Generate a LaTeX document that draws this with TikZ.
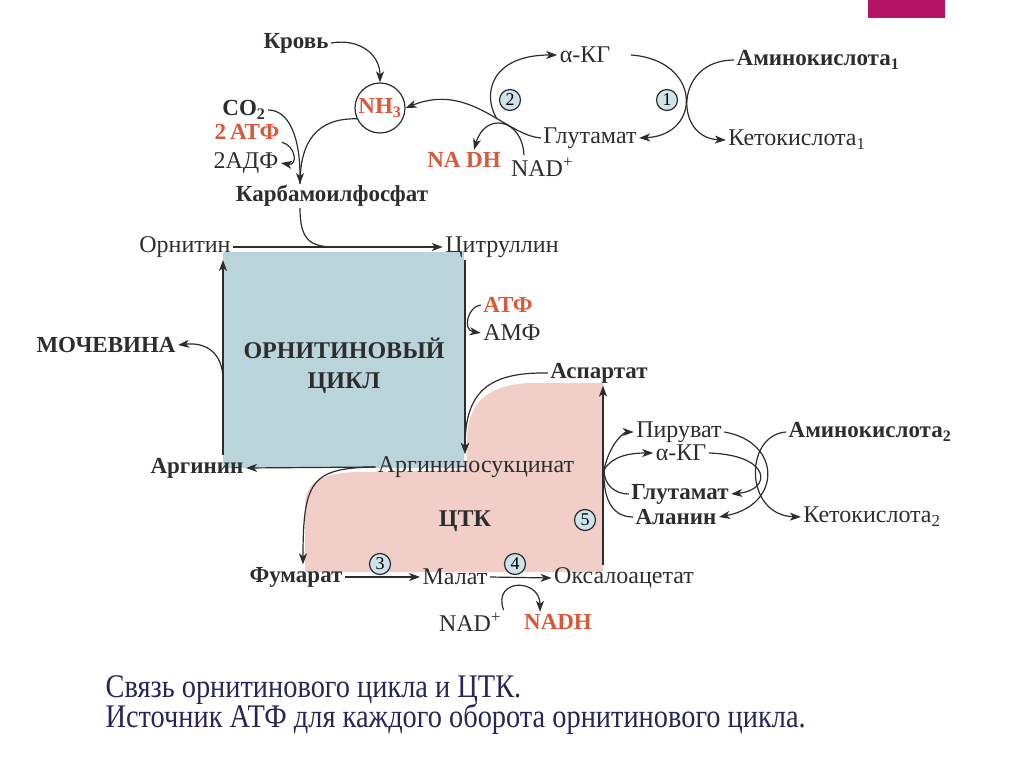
\documentclass[tikz,border=0pt]{standalone}
\usepackage{fontspec}
\setmainfont{Liberation Serif}
\newfontfamily\capfont[FakeStretch=0.86]{Liberation Serif}
\usetikzlibrary{arrows.meta}
\definecolor{ored}{RGB}{218,88,56}
\definecolor{oblue}{RGB}{186,212,220}
\definecolor{opink}{RGB}{241,206,199}
\definecolor{cblue}{RGB}{205,228,234}
\definecolor{slidemag}{RGB}{181,20,102}
\definecolor{capnavy}{RGB}{38,38,88}
\definecolor{ink}{RGB}{45,45,45}

\begin{document}
\begin{tikzpicture}[x=1pt, y=-1pt, line width=1.2pt, draw=ink,
    lbl/.style={font=\fontsize{24}{27}\selectfont, text=ink, inner sep=2pt},
    blbl/.style={font=\fontsize{23}{26}\selectfont\bfseries, text=ink, inner sep=2pt},
    rlbl/.style={blbl, text=ored},
    ttl/.style={font=\fontsize{24}{30}\selectfont\bfseries, text=ink, align=center},
    num/.style={circle, draw, fill=cblue, inner sep=0pt, minimum size=21pt, font=\fontsize{18}{18}\selectfont},
    arr/.style={-{Stealth[length=11pt,width=8pt,inset=3pt]}},
    captxt/.style={font=\capfont\fontsize{33}{36}\selectfont, text=capnavy, anchor=west, inner sep=0pt}]
    \useasboundingbox (0,0) rectangle (1024,767);

    % slide mark and cycle panels
    \fill[slidemag] (868,0) rectangle (945,18);
    \fill[oblue] (223,252) rectangle (464,468);
    \fill[opink] (467,470) -- (467,440) .. controls (467,405) and (485,385) .. (530,383) -- (603,383) -- (603,572) -- (305,572) -- (305,505) .. controls (305,482) and (322,472) .. (363,472) -- cycle;

    % top: ammonia and carbamoyl phosphate
    \node[blbl] (krov) at (296,43) {Кровь};
    \node[circle, draw, minimum size=50pt, inner sep=0pt, font=\fontsize{23}{26}\selectfont\bfseries, text=ored] (nh3) at (380,108) {NH\textsubscript{3}};
    \node[blbl] (co2) at (244,110) {CO\textsubscript{2}};
    \node[rlbl] (atf2) at (247,132) {2\,АТФ};
    \node[lbl] (adf) at (246,163) {2АДФ};
    \node[blbl] (karb) at (332,196) {Карбамоилфосфат};
    \coordinate (kin) at (300,184);
    \coordinate (kout) at (300,208);
    \coordinate (kjoin) at (335,247);

    % glutamate dehydrogenase and transamination 1
    \node[lbl] (akg1) at (585,55) {α-КГ};
    \node[lbl] (glu1) at (590,138) {Глутамат};
    \node[rlbl] (nadh1) at (464,160) {NA DH};
    \node[lbl] (nad1) at (542,167) {NAD\textsuperscript{+}};
    \node[blbl] (aa1) at (818,60) {Аминокислота\textsubscript{1}};
    \node[lbl] (ka1) at (797,140) {Кетокислота\textsubscript{1}};
    \node[num] (c2) at (510,100) {2};
    \node[num] (c1) at (667,100) {1};
    \coordinate (b2) at (497,119);

    % ornithine cycle
    \node[lbl] (orn) at (185,247) {Орнитин};
    \node[lbl] (citr) at (502,247) {Цитруллин};
    \node[rlbl] (atf) at (508,305) {АТФ};
    \node[lbl] (amf) at (512,333) {АМФ};
    \node[blbl] (urea) at (106,345) {МОЧЕВИНА};
    \node[ttl] (oc) at (344,366) {ОРНИТИНОВЫЙ\\ЦИКЛ};
    \node[blbl] (asp) at (599,373) {Аспартат};
    \node[blbl] (arg) at (197,468) {Аргинин};
    \node[lbl] (args) at (476,467) {Аргининосукцинат};
    \coordinate (lx) at (223,0);
    \coordinate (rx) at (465,0);
    \coordinate (ub) at (223,380);

    % TCA part
    \node[ttl] (ctk) at (465,521) {ЦТК};
    \node[blbl] (fum) at (296,577) {Фумарат};
    \node[lbl] (mal) at (455,577) {Малат};
    \node[lbl] (oxa) at (624,578) {Оксалоацетат};
    \node[lbl] (nad2) at (470,622) {NAD\textsuperscript{+}};
    \node[rlbl] (nadh2) at (558,622) {NADH};
    \node[num] (c3) at (380,564) {3};
    \node[num] (c4) at (515,564) {4};
    \node[num] (c5) at (585,520) {5};
    \coordinate (vx) at (603,0);
    \coordinate (br) at (604,470);

    % transamination 2
    \node[lbl] (pyr) at (679,432) {Пируват};
    \node[lbl] (akg2) at (681,453) {α-КГ};
    \node[blbl] (glu2) at (680,494) {Глутамат};
    \node[blbl] (ala) at (676,517) {Аланин};
    \node[blbl] (aa2) at (870,432) {Аминокислота\textsubscript{2}};
    \node[lbl] (ka2) at (872,517) {Кетокислота\textsubscript{2}};

    % caption
    \node[captxt] (cap1) at (105,690) {Связь орнитинового цикла и ЦТК.};
    \node[captxt] (cap2) at (105,719) {Источник АТФ для каждого оборота орнитинового цикла.};

    % connectors, top
    \draw[arr] (krov.east) .. controls (360,38) and (380,55) .. (nh3.north);
    \draw[arr] (co2.east) .. controls (288,110) and (300,135) .. (kin);
    \draw (nh3.205) .. controls (318,118) and (300,140) .. (kin);
    \draw[arr] (atf2.south east) .. controls (296,146) and (298,166) .. (adf.east);
    \draw (kout) .. controls (300,240) and (310,247) .. (kjoin);
    \draw[arr] (glu1.west) .. controls (505,135) and (470,82) .. (nh3.east);
    \draw[arr] (b2) .. controls (482,95) and (490,55) .. (akg1.west);
    \draw[arr] ([xshift=-18pt]nad1.north) .. controls (522,118) and (485,112) .. ([xshift=10pt]nadh1.north);
    \draw[arr] ([xshift=18pt]akg1.east) .. controls (702,60) and (702,135) .. (glu1.east);
    \draw[arr] (aa1.west) .. controls (674,60) and (674,138) .. (ka1.west);

    % connectors, ornithine cycle
    \draw[arr] (orn.east) -- (citr.west);
    \draw[arr] (citr.south -| rx) -- (args.north -| rx);
    \draw[arr] (args.west) -- (arg.east);
    \draw[arr] (arg.north -| lx) -- (orn.south -| lx);
    \draw[arr] (ub) .. controls (223,352) and (205,342) .. (urea.east);
    \draw[arr] (atf.west) .. controls (468,306) and (462,330) .. (amf.west);
    \draw[arr] (asp.west) .. controls (488,372) and (465,392) .. (args.north -| rx);

    % connectors, TCA part
    \draw[arr] (args.west) .. controls (312,468) and (303,480) .. (fum.north -| 303,0);
    \draw[arr] (fum.east) -- (mal.west);
    \draw[arr] (mal.east) -- (oxa.west);
    \draw[arr] (nad2.north east) .. controls (492,578) and (540,578) .. ([xshift=-18pt]nadh2.north);
    \draw[arr] (oxa.north -| vx) -- (asp.south -| vx);

    % connectors, transamination 2
    \draw[arr] (br) .. controls (610,442) and (625,432) .. (pyr.west);
    \draw[arr] (br) .. controls (612,456) and (630,453) .. (akg2.west);
    \draw (glu2.west) .. controls (615,494) and (604,485) .. (br);
    \draw (ala.west) .. controls (610,517) and (603,495) .. (br);
    \draw[arr] (pyr.east) .. controls (782,442) and (782,505) .. (ala.east);
    \draw[arr] (akg2.east) .. controls (772,455) and (772,490) .. (glu2.east);
    \draw[arr] (aa2.west) .. controls (744,435) and (744,515) .. (ka2.west);
\end{tikzpicture}
\end{document}
